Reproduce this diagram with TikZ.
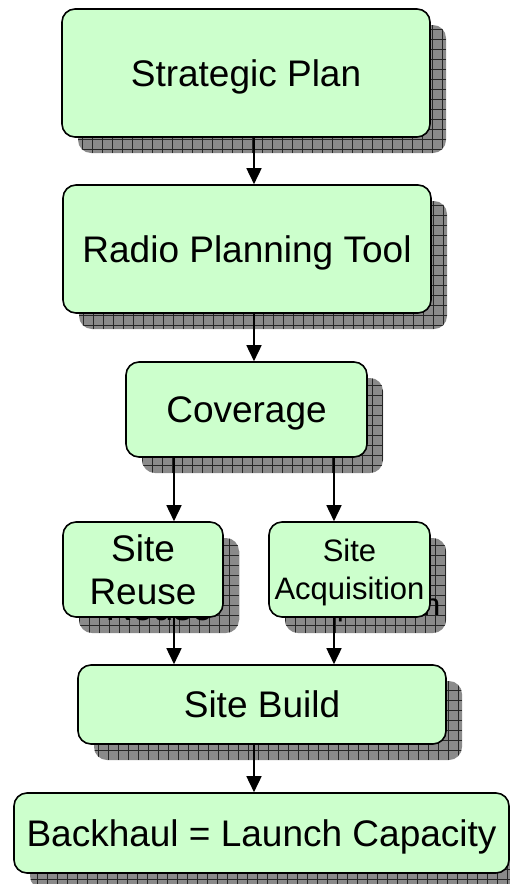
\documentclass[tikz,border=0pt]{standalone}
\usepackage{fontspec}
\setmainfont{Liberation Sans}
\usetikzlibrary{arrows.meta,calc}
\definecolor{boxgreen}{RGB}{204,255,204}
\definecolor{shadowgray}{RGB}{138,138,138}
\tikzset{
  flowbox/.style={draw=black, line width=1.6pt, fill=boxgreen, rounded corners=13pt,
    inner sep=0pt, align=center, text depth=0pt, font=\fontsize{37}{43}\selectfont},
  shadowbox/.style={fill=shadowgray, rounded corners=13pt, inner sep=0pt,
    path picture={\draw[black!85, line width=0.7pt, step=10pt]
      (path picture bounding box.south west) grid (path picture bounding box.north east);}},
  shadowtext/.style={inner sep=0pt, align=center, text depth=0pt, text=black},
  flowarrow/.style={line width=1.6pt, -{Triangle[length=16pt,width=15pt]}},
}
\begin{document}
\begin{tikzpicture}[x=1pt,y=-1pt]
\useasboundingbox (0,0) rectangle (510,884);
% shadows
\node[shadowbox, minimum width=368pt, minimum height=128pt] (planS) at (262,89) {};
\node[shadowbox, minimum width=368pt, minimum height=128pt] (radioS) at (263,265) {};
\node[shadowbox, minimum width=241pt, minimum height=95pt] (covS) at (262.5,425.5) {};
\node[shadowbox, minimum width=160pt, minimum height=95pt] (reuseS) at (159,585.5) {};
\node[shadowbox, minimum width=161pt, minimum height=95pt] (acqS) at (365.5,585.5) {};
\node[shadowbox, minimum width=368pt, minimum height=79pt] (buildS) at (278,720.5) {};
\node[shadowbox, minimum width=495pt, minimum height=80pt] (backS) at (277.5,849) {};
% shadow texts
\node[shadowtext, font=\fontsize{37}{43}\selectfont] (reuseT) at (159,585.5) {Site\\Reuse};
\node[shadowtext, font=\fontsize{31}{38}\selectfont] (acqT) at (365.5,585.5) {Site\\Acquisition};
% boxes
\node[flowbox, minimum width=368pt, minimum height=128pt] (plan) at (246,73) {Strategic Plan};
\node[flowbox, minimum width=368pt, minimum height=128pt] (radio) at (247,249) {Radio Planning Tool};
\node[flowbox, minimum width=241pt, minimum height=95pt] (cov) at (246.5,409.5) {Coverage};
\node[flowbox, minimum width=160pt, minimum height=95pt] (reuse) at (143,569.5) {Site\\Reuse};
\node[flowbox, minimum width=161pt, minimum height=95pt, font=\fontsize{31}{38}\selectfont] (acq) at (349.5,569.5) {Site\\Acquisition};
\node[flowbox, minimum width=368pt, minimum height=79pt] (build) at (262,704.5) {Site Build};
\node[flowbox, minimum width=495pt, minimum height=80pt] (back) at (261.5,833) {Backhaul = Launch Capacity};
% connectors
\coordinate (spine) at (254,0);
\coordinate (lb) at (174,0);
\coordinate (rb) at (334,0);
\draw[flowarrow] (plan.south -| spine) -- (radio.north -| spine);
\draw[flowarrow] (radio.south -| spine) -- (cov.north -| spine);
\draw[flowarrow] (cov.south -| lb) -- (reuse.north -| lb);
\draw[flowarrow] (cov.south -| rb) -- (acq.north -| rb);
\draw[flowarrow] (reuse.south -| lb) -- (build.north -| lb);
\draw[flowarrow] (acq.south -| rb) -- (build.north -| rb);
\draw[flowarrow] (build.south -| spine) -- (back.north -| spine);
\end{tikzpicture}
\end{document}
